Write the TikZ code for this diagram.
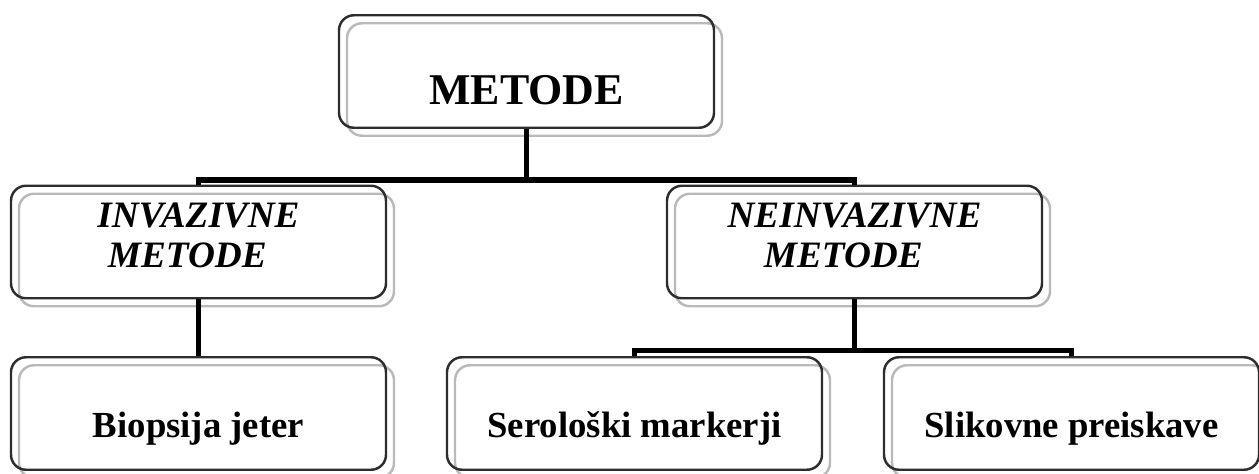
\documentclass[tikz,border=0pt]{standalone}
\usepackage{fontspec}
\setmainfont{Liberation Serif}
\usepackage{tikz}
\usetikzlibrary{shadows,positioning,calc}
\definecolor{boxline}{RGB}{45,45,45}
\definecolor{shadowline}{RGB}{185,185,185}

\tikzset{
  box/.style={draw=boxline, line width=1.4pt, rounded corners=0.3cm,
    minimum width=7.5cm, minimum height=2.25cm, align=center,
    copy shadow={shadow xshift=0.16cm, shadow yshift=-0.16cm,
      draw=shadowline, fill=none, line width=1.4pt}},
  conn/.style={line width=2.9pt},
  headfont/.style={font=\fontsize{25}{30}\selectfont\bfseries},
  midfont/.style={font=\fontsize{21.2}{23.2}\selectfont\bfseries\itshape,
    text width=7cm, text height=0.6cm, text depth=1.2cm},
  leaffont/.style={font=\fontsize{20.9}{24}\selectfont\bfseries,
    text height=0.94cm, text depth=0pt}
}

\begin{document}
\begin{tikzpicture}
    \useasboundingbox (0,0) rectangle (25.18,9.46);

    % Top level
    \node[box, headfont, text height=1.34cm, text depth=0pt] (metode) at (10.53,8.03) {METODE};

    % Second level
    \node[box, midfont] (inv) at (3.97,4.62) {INVAZIVNE\\METODE\hspace*{0.6em}\null};
    \node[box, midfont] (neinv) at (17.09,4.62) {NEINVAZIVNE\\METODE\hspace*{0.6em}\null};

    % Third level
    \node[box, leaffont] (biopsija) at (3.97,1.19) {Biopsija jeter};
    \node[box, leaffont] (sero) at (12.69,1.19) {Serološki markerji};
    \node[box, leaffont] (slik) at (21.43,1.19) {Slikovne preiskave};

    % Connections
    \draw[conn] (metode.south) -- ++(0,-1.02) coordinate (split) -| (inv.north);
    \draw[conn] (split) -| (neinv.north);
    \draw[conn] (inv.south) -- (biopsija.north);
    \draw[conn] (neinv.south) -- ++(0,-1.02) coordinate (split2) -| (sero.north);
    \draw[conn] (split2) -| (slik.north);

\end{tikzpicture}
\end{document}
